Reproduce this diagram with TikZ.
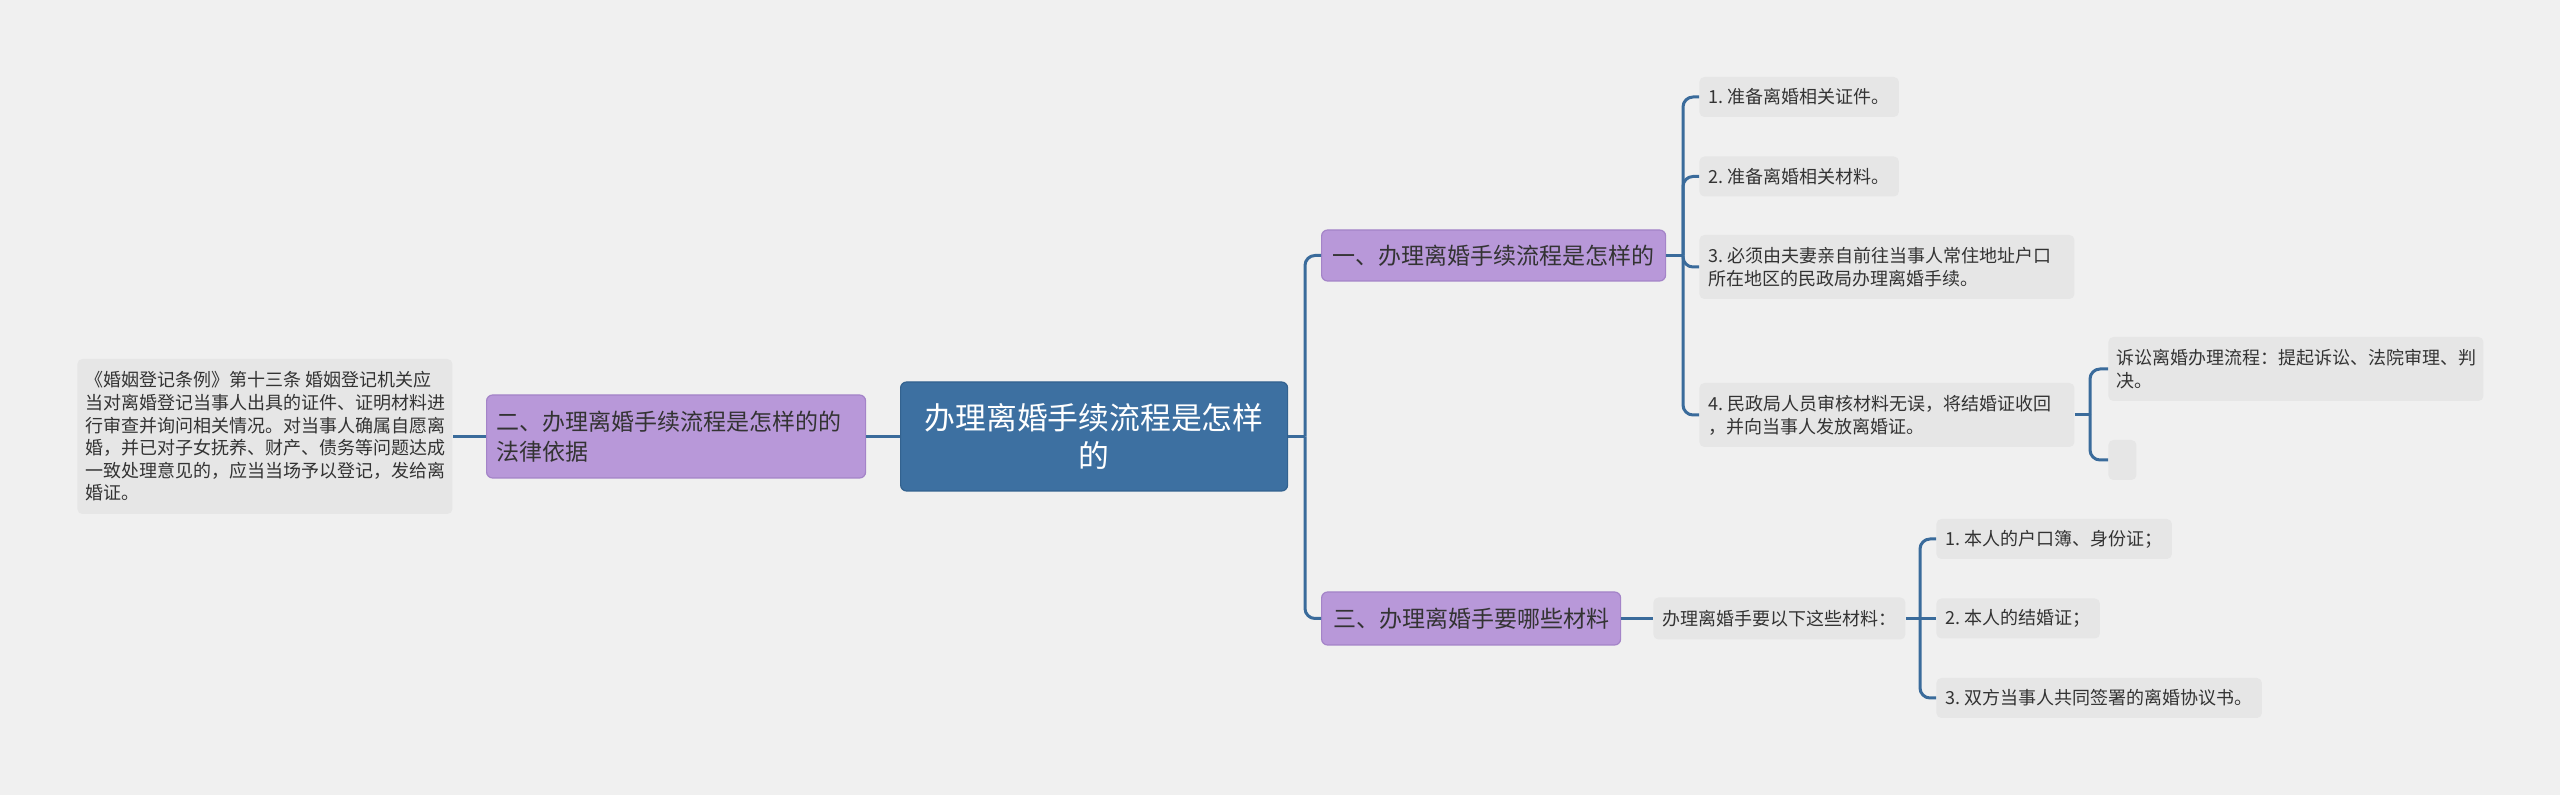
\documentclass[tikz,border=0pt]{standalone}
\usepackage{fontspec}
\setmainfont{Noto Sans CJK SC}
\definecolor{bgc}{HTML}{F0F0F0}
\definecolor{leafc}{HTML}{E6E6E6}
\definecolor{purp}{HTML}{B898D9}
\definecolor{purpd}{HTML}{A484C8}
\definecolor{rootc}{HTML}{3D70A1}
\definecolor{rootd}{HTML}{33628F}
\definecolor{lc}{HTML}{3A6B9B}
\definecolor{txt}{HTML}{333333}
\newcommand\fixsp{\hspace{0.25em}}
\begin{document}
\begin{tikzpicture}[x=0.5pt,y=-0.5pt,
  box/.style={rounded corners=2.5pt, inner xsep=4.5pt, inner ysep=0pt, text=txt,
    font=\fontsize{9pt}{11.5pt}\selectfont, anchor=west},
  leaf/.style={box, fill=leafc},
  lvl/.style={rounded corners=3pt, fill=purp, draw=purpd, line width=0.6pt, text=txt,
    inner xsep=5pt, inner ysep=0pt, font=\fontsize{11.5pt}{15pt}\selectfont, anchor=west},
  rootbox/.style={rounded corners=3pt, fill=rootc, draw=rootd, line width=0.6pt, text=white,
    inner xsep=4.5pt, inner ysep=0pt, font=\fontsize{15.4pt}{19pt}\selectfont, anchor=west},
  conn/.style={draw=lc, line width=1.5pt, rounded corners=5pt}]
\useasboundingbox (0,0) rectangle (2560,795);
\fill[bgc] (0,0) rectangle (2560,795);

% root
\node[rootbox, minimum width=193.5pt, minimum height=54.5pt, text width=184.5pt, align=center]
  (root) at (900,436.5) {办理离婚手续流程是怎样\\的};

% left side
\node[lvl, minimum width=189.5pt, minimum height=41.5pt, text width=179.5pt, align=left]
  (n2) at (486,436.5) {二、办理离婚手续流程是怎样的的\\法律依据};
\node[leaf, inner xsep=4pt, minimum width=187.5pt, minimum height=77.5pt, text width=179.5pt, align=left,
  font=\fontsize{9pt}{11.3pt}\selectfont]
  (lL) at (77,436.5) {《婚姻登记条例》第十三条\fixsp 婚姻登记机关应\\当对离婚登记当事人出具的证件、证明材料进\\行审查并询问相关情况。对当事人确属自愿离\\婚，并已对子女抚养、财产、债务等问题达成\\一致处理意见的，应当当场予以登记，发给离\\婚证。};

% right level 1
\node[lvl, minimum width=172pt, minimum height=25.5pt] (n1) at (1321,255.5) {一、办理离婚手续流程是怎样的};
\node[lvl, minimum width=149.5pt, minimum height=26.5pt] (n3) at (1321,618.5) {三、办理离婚手要哪些材料};

% children of n1
\node[leaf, minimum width=99pt, minimum height=20pt] (l1) at (1699,97) {1.\fixsp 准备离婚相关证件。};
\node[leaf, minimum width=99pt, minimum height=20pt] (l2) at (1699,176.5) {2.\fixsp 准备离婚相关材料。};
\node[leaf, minimum width=187.5pt, minimum height=32pt, text width=178.5pt, align=left]
  (l3) at (1699,267) {3.\fixsp 必须由夫妻亲自前往当事人常住地址户口\\所在地区的民政局办理离婚手续。};
\node[leaf, minimum width=187.5pt, minimum height=32pt, text width=178.5pt, align=left]
  (l4) at (1699,415) {4.\fixsp 民政局人员审核材料无误，将结婚证收回\\，并向当事人发放离婚证。};
\node[leaf, inner xsep=4pt, minimum width=187.5pt, minimum height=32pt, text width=179.5pt, align=left]
  (l4a) at (2108,369) {诉讼离婚办理流程：提起诉讼、法院审理、判\\决。};
\node[leaf, minimum width=14pt, minimum height=20pt] (l4b) at (2108,460) {};

% children of n3
\node[leaf, minimum width=125pt, minimum height=21pt] (m0) at (1653,618.5) {办理离婚手要以下这些材料：};
\node[leaf, minimum width=117pt, minimum height=20pt] (m1) at (1936,539) {1.\fixsp 本人的户口簿、身份证；};
\node[leaf, minimum width=81pt, minimum height=20pt] (m2) at (1936,618.5) {2.\fixsp 本人的结婚证；};
\node[leaf, minimum width=162pt, minimum height=20pt] (m3) at (1936,698) {3.\fixsp 双方当事人共同签署的离婚协议书。};

% trunk coordinates
\coordinate (t0) at (1305,436.5);
\coordinate (t1) at (1683,255.5);
\coordinate (t4) at (2090,415);
\coordinate (t5) at (1920,618.5);

% connectors
\draw[conn] (root.west) -- (n2.east);
\draw[conn] (n2.west) -- (lL.east);
\draw[conn] (root.east) -- (t0);
\draw[conn] (t0) |- (n1.west);
\draw[conn] (t0) |- (n3.west);
\draw[conn] (n1.east) -- (t1);
\draw[conn] (t1) |- (l1.west);
\draw[conn] (t1) |- (l2.west);
\draw[conn] (t1) |- (l3.west);
\draw[conn] (t1) |- (l4.west);
\draw[conn] (l4.east) -- (t4);
\draw[conn] (t4) |- (l4a.west);
\draw[conn] (t4) |- (l4b.west);
\draw[conn] (n3.east) -- (m0.west);
\draw[conn] (m0.east) -- (t5);
\draw[conn] (t5) |- (m1.west);
\draw[conn] (t5) -- (m2.west);
\draw[conn] (t5) |- (m3.west);
\end{tikzpicture}
\end{document}
